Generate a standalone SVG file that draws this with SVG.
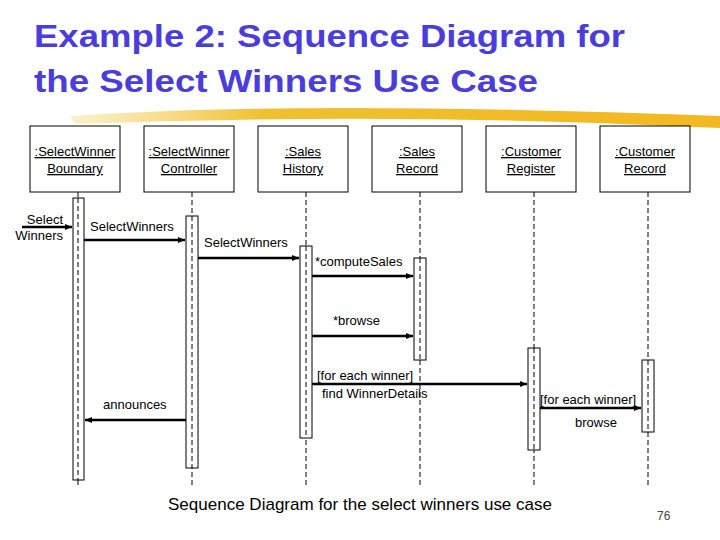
<svg xmlns="http://www.w3.org/2000/svg" width="720" height="540" viewBox="0 0 720 540">
<style>
.t{font-family:"Liberation Sans",Arial,sans-serif;font-size:13px;fill:#000}
.h{font-family:"Liberation Sans",Arial,sans-serif;font-size:32px;font-weight:bold;fill:#4a3ddb}
.box{fill:#fff;stroke:#000;stroke-width:1}
.life{stroke:#000;stroke-width:1;stroke-dasharray:5,3}
.act{fill:#fff;stroke:#000;stroke-width:1}
.msg{stroke:#000;stroke-width:2.5;fill:none;marker-end:url(#ah)}
</style>
<defs>
<marker id="ah" markerWidth="8" markerHeight="8" refX="7" refY="4" orient="auto" markerUnits="userSpaceOnUse"><path d="M0,1 L7,4 L0,7 Z" fill="#000"/></marker>
<linearGradient id="y" x1="0" x2="1"><stop offset="0" stop-color="#f5d060" stop-opacity="0.3"/><stop offset="0.3" stop-color="#f0c030"/><stop offset="1" stop-color="#f2b820"/></linearGradient>
</defs>
<rect width="720" height="540" fill="#fff"/>
<path d="M70,116 Q300,100 720,116 L720,128 Q400,112 75,124 Z" fill="url(#y)"/>
<text class="h" x="34" y="47" textLength="591" lengthAdjust="spacingAndGlyphs">Example 2: Sequence Diagram for</text>
<text class="h" x="34" y="92" textLength="504" lengthAdjust="spacingAndGlyphs">the Select Winners Use Case</text>
<g id="lifelines">
<line class="life" x1="78" y1="192" x2="78" y2="485"/>
<line class="life" x1="192" y1="192" x2="192" y2="485"/>
<line class="life" x1="306" y1="192" x2="306" y2="485"/>
<line class="life" x1="420" y1="192" x2="420" y2="485"/>
<line class="life" x1="534" y1="192" x2="534" y2="485"/>
<line class="life" x1="648" y1="192" x2="648" y2="485"/>
</g>
<g id="n1"><rect class="box" x="30" y="126" width="90" height="66"/><text class="t" x="75" y="156" text-anchor="middle" text-decoration="underline">:SelectWinner</text><text class="t" x="75" y="173" text-anchor="middle" text-decoration="underline">Boundary</text></g>
<g id="n2"><rect class="box" x="144" y="126" width="90" height="66"/><text class="t" x="189" y="156" text-anchor="middle" text-decoration="underline">:SelectWinner</text><text class="t" x="189" y="173" text-anchor="middle" text-decoration="underline">Controller</text></g>
<g id="n3"><rect class="box" x="258" y="126" width="90" height="66"/><text class="t" x="303" y="156" text-anchor="middle" text-decoration="underline">:Sales</text><text class="t" x="303" y="173" text-anchor="middle" text-decoration="underline">History</text></g>
<g id="n4"><rect class="box" x="372" y="126" width="90" height="66"/><text class="t" x="417" y="156" text-anchor="middle" text-decoration="underline">:Sales</text><text class="t" x="417" y="173" text-anchor="middle" text-decoration="underline">Record</text></g>
<g id="n5"><rect class="box" x="486" y="126" width="90" height="66"/><text class="t" x="531" y="156" text-anchor="middle" text-decoration="underline">:Customer</text><text class="t" x="531" y="173" text-anchor="middle" text-decoration="underline">Register</text></g>
<g id="n6"><rect class="box" x="600" y="126" width="90" height="66"/><text class="t" x="645" y="156" text-anchor="middle" text-decoration="underline">:Customer</text><text class="t" x="645" y="173" text-anchor="middle" text-decoration="underline">Record</text></g>
<g id="activations">
<rect class="act" x="73" y="198" width="11" height="282"/><line class="life" x1="78" y1="198" x2="78" y2="480"/>
<rect class="act" x="186" y="216" width="12" height="252"/><line class="life" x1="192" y1="216" x2="192" y2="468"/>
<rect class="act" x="300" y="246" width="12" height="192"/><line class="life" x1="306" y1="246" x2="306" y2="438"/>
<rect class="act" x="414" y="258" width="12" height="102"/><line class="life" x1="420" y1="258" x2="420" y2="360"/>
<rect class="act" x="528" y="348" width="12" height="102"/><line class="life" x1="534" y1="348" x2="534" y2="450"/>
<rect class="act" x="642" y="360" width="12" height="72"/><line class="life" x1="648" y1="360" x2="648" y2="432"/>
</g>
<g id="connectors">
<line class="msg" x1="22" y1="227" x2="72" y2="227"/>
<line class="msg" x1="84" y1="240" x2="185" y2="240"/>
<line class="msg" x1="198" y1="258" x2="299" y2="258"/>
<line class="msg" x1="312" y1="276" x2="413" y2="276"/>
<line class="msg" x1="312" y1="336" x2="413" y2="336"/>
<line class="msg" x1="312" y1="384" x2="527" y2="384"/>
<line class="msg" x1="540" y1="408" x2="641" y2="408"/>
<line class="msg" x1="186" y1="420" x2="85" y2="420"/>
</g>
<g id="labels">
<text class="t" x="63" y="224" text-anchor="end">Select</text>
<text class="t" x="63" y="240" text-anchor="end">Winners</text>
<text class="t" x="90" y="231">SelectWinners</text>
<text class="t" x="204" y="247">SelectWinners</text>
<text class="t" x="315" y="266">*computeSales</text>
<text class="t" x="333" y="325">*browse</text>
<text class="t" x="317" y="380">[for each winner]</text>
<text class="t" x="322" y="398">find WinnerDetails</text>
<text class="t" x="540" y="404">[for each winner]</text>
<text class="t" x="575" y="427">browse</text>
<text class="t" x="103" y="409">announces</text>
</g>
<text class="t" x="360" y="510" text-anchor="middle" style="font-size:17px" textLength="384">Sequence Diagram for the select winners use case</text>
<text class="t" x="657" y="520" style="font-size:12px;fill:#444">76</text>
</svg>
